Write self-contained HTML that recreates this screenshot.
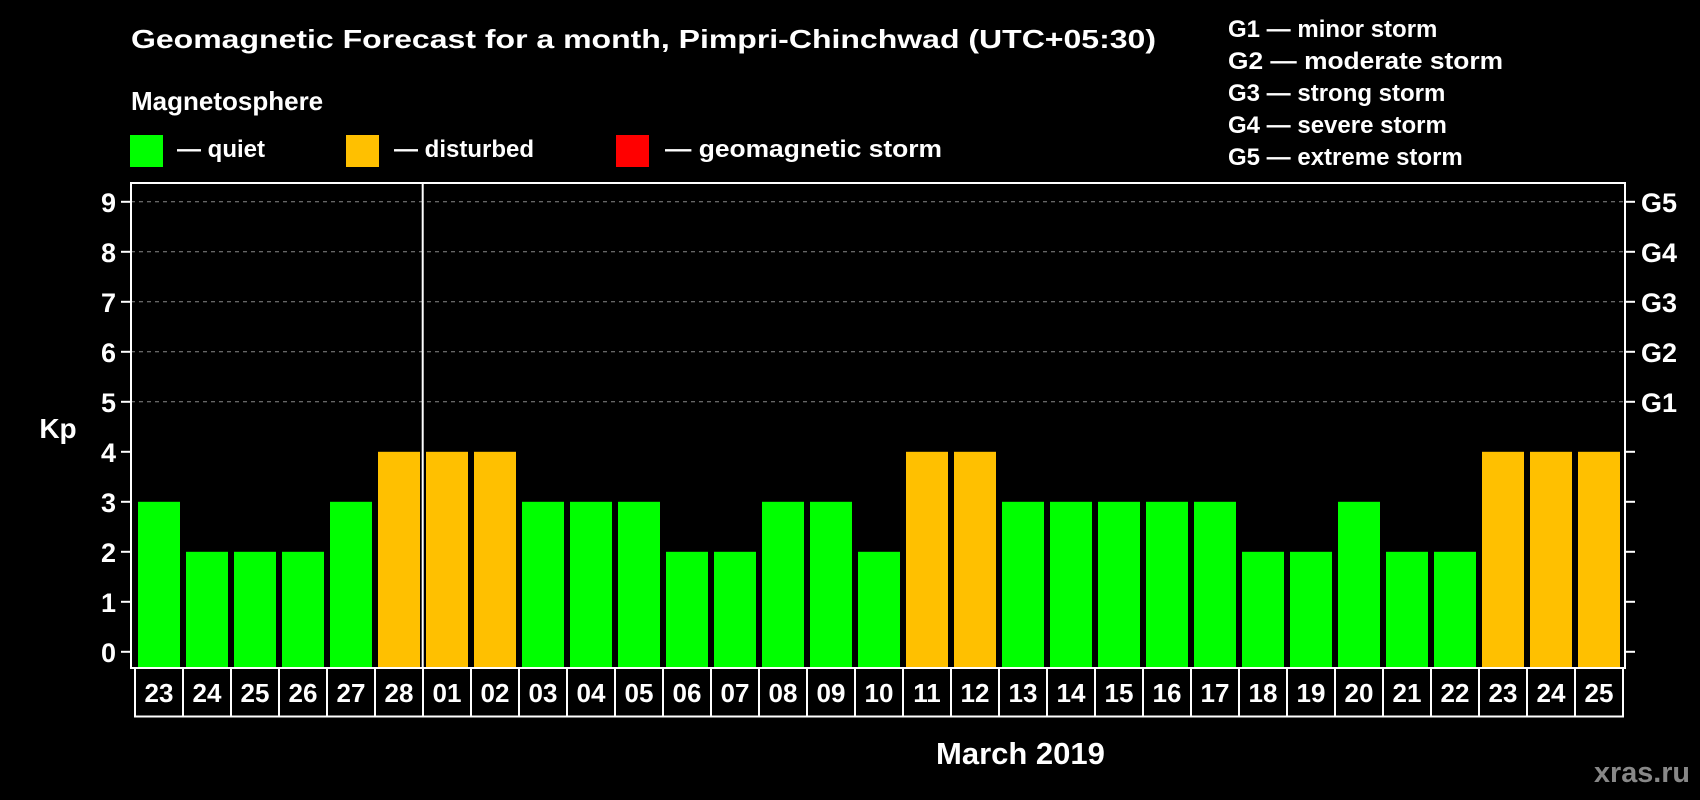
<!DOCTYPE html>
<html><head><meta charset="utf-8">
<style>
html,body{margin:0;padding:0;background:#000;}
svg{display:block;font-family:"Liberation Sans",Arial,sans-serif;font-weight:bold;}
</style></head>
<body>
<svg id="chart" width="1700" height="800" viewBox="0 0 1700 800" xmlns="http://www.w3.org/2000/svg">
<rect x="0" y="0" width="1700" height="800" fill="#000"/>
<text x="131" y="48" font-size="26" fill="#fff" textLength="1025" lengthAdjust="spacingAndGlyphs">Geomagnetic Forecast for a month, Pimpri-Chinchwad (UTC+05:30)</text>
<text x="131" y="110" font-size="26" fill="#fff">Magnetosphere</text>
<g>
<rect x="130" y="135" width="33" height="32" fill="#00ff00"/>
<text x="177" y="157" font-size="24" fill="#fff">— quiet</text></g>
<g>
<rect x="346" y="135" width="33" height="32" fill="#ffc000"/>
<text x="394" y="157" font-size="24" fill="#fff">— disturbed</text></g>
<g>
<rect x="616" y="135" width="33" height="32" fill="#ff0000"/>
<text x="665" y="157" font-size="24" fill="#fff" textLength="277" lengthAdjust="spacingAndGlyphs">— geomagnetic storm</text></g>
<g font-size="24" fill="#fff">
<text x="1228" y="37">G1 — minor storm</text>
<text x="1228" y="69" textLength="275" lengthAdjust="spacingAndGlyphs">G2 — moderate storm</text>
<text x="1228" y="101">G3 — strong storm</text>
<text x="1228" y="133">G4 — severe storm</text>
<text x="1228" y="165">G5 — extreme storm</text>
</g>
<g id="grid"></g>
<g id="bars"></g>
<rect x="131" y="183" width="1494" height="485" fill="none" stroke="#fff" stroke-width="2"/>
<line x1="422.7" y1="183" x2="422.7" y2="668" stroke="#fff" stroke-width="2"/>
<g id="yaxis"></g>
<g id="xaxis"></g>
<text x="58" y="438" font-size="28" fill="#fff" text-anchor="middle">Kp</text>
<text x="936" y="764" font-size="31" fill="#fff">March 2019</text>
<text x="1594" y="782" font-size="29" fill="#888" textLength="96" lengthAdjust="spacingAndGlyphs">xras.ru</text>
</svg>
<script>
const days = ["23","24","25","26","27","28","01","02","03","04","05","06","07","08","09","10","11","12","13","14","15","16","17","18","19","20","21","22","23","24","25"];
const kpValues = [3,2,2,2,3,4,4,4,3,3,3,2,2,3,3,2,4,4,3,3,3,3,3,2,2,3,2,2,4,4,4];
const yTicks = [0,1,2,3,4,5,6,7,8,9];
const gLabels = ["","","","","","G1","G2","G3","G4","G5"];

const NS = "http://www.w3.org/2000/svg";
const plotLeft = 131, plotRight = 1625, plotTop = 183, plotBottom = 668;
const y0 = 651.8, unit = 50;
function yScale(v){ return y0 - v*unit; }
const slot = 48, firstSlot = 135, barW = 42;
function xSlot(i){ return firstSlot + i*slot; }
function colorFor(v){ return v >= 5 ? "#ff0000" : (v >= 4 ? "#ffc000" : "#00ff00"); }
function mk(tag, attrs, parent){
  const el = document.createElementNS(NS, tag);
  for (const k in attrs) el.setAttribute(k, attrs[k]);
  parent.appendChild(el);
  return el;
}
const grid = document.getElementById("grid");
const yaxis = document.getElementById("yaxis");
yTicks.forEach((t, i) => {
  const y = yScale(t);
  if (t >= 5) {
    const gl = mk("line", {x1: plotLeft, x2: plotRight, y1: y, y2: y, stroke: "#888", "stroke-width": 1, "stroke-dasharray": "4,4"}, grid);
    
    
  }
  const tl = mk("line", {x1: plotLeft - 10, x2: plotLeft, y1: y, y2: y, stroke: "#fff", "stroke-width": 2}, yaxis);
  
  
  const tr = mk("line", {x1: plotRight, x2: plotRight + 10, y1: y, y2: y, stroke: "#fff", "stroke-width": 2}, yaxis);
  
  
  const lab = mk("text", {x: 116, y: y + 10, "font-size": 27, fill: "#fff", "text-anchor": "end"}, yaxis);
  lab.textContent = t;
  
  
  if (gLabels[i]) {
    const gl2 = mk("text", {x: 1641, y: y + 10, "font-size": 27, fill: "#fff"}, yaxis);
    gl2.textContent = gLabels[i];
    
    
  }
});
const bars = document.getElementById("bars");
const xaxis = document.getElementById("xaxis");
kpValues.forEach((v, i) => {
  const x = xSlot(i) + 3;
  const top = yScale(v);
  const b = mk("rect", {x: x, y: top, width: barW, height: plotBottom - top, fill: colorFor(v)}, bars);
  
  
});
days.forEach((d, i) => {
  const bx = mk("rect", {x: xSlot(i), y: 668, width: slot, height: 48.5, fill: "none", stroke: "#fff", "stroke-width": 2}, xaxis);
  
  
  const t = mk("text", {x: xSlot(i) + slot/2, y: 702, "font-size": 26, fill: "#fff", "text-anchor": "middle"}, xaxis);
  t.textContent = d;
  
  
});
</script>
</body></html>
